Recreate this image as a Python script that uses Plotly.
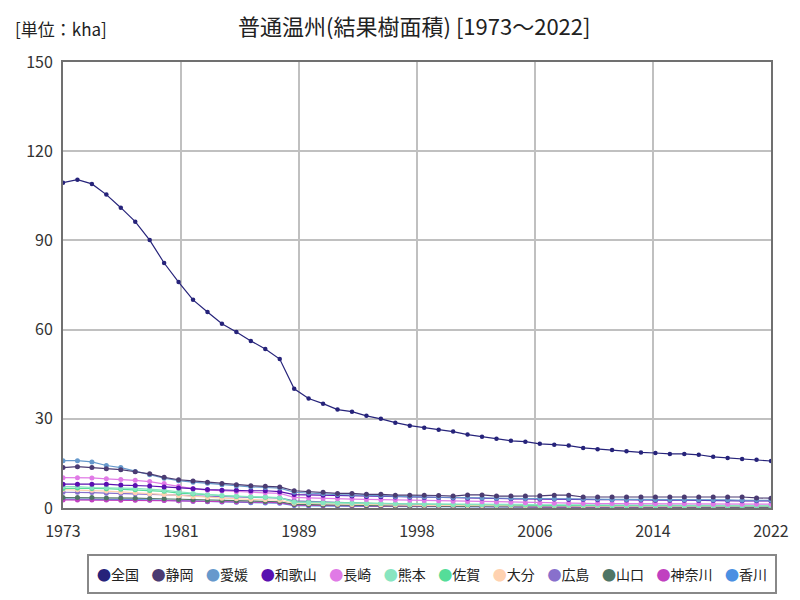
import numpy as np
import plotly.graph_objects as go

years = list(range(1973, 2023))

names = ["全国", "静岡", "愛媛", "和歌山", "長崎", "熊本", "佐賀", "大分", "広島", "山口", "神奈川", "香川"]
colors = ["#26237a", "#4b3b72", "#6699cc", "#5a10b0", "#e07ae6", "#88e5c0",
          "#55dd99", "#ffd2b0", "#8870cc", "#4f7565", "#c040c0", "#4a90e2"]

zenkoku = [109.4, 110.4, 109.0, 105.4, 101.0, 96.3, 90.1, 82.4, 76.0, 70.0, 65.9, 62.0, 59.2, 56.2, 53.5, 50.1, 40.1,
           36.8, 35.1, 33.1, 32.4, 31.0, 30.0, 28.7, 27.7, 27.0, 26.3, 25.7, 24.7, 24.0, 23.3, 22.6, 22.3, 21.6,
           21.3, 21.0, 20.2, 19.8, 19.5, 19.1, 18.7, 18.5, 18.2, 18.2, 17.9, 17.2, 16.8, 16.5, 16.2, 15.8]
shizuoka = [13.6, 13.9, 13.6, 13.2, 12.9, 12.2, 11.5, 10.3, 9.5, 9.1, 8.7, 8.2, 7.8, 7.5, 7.3, 7.1, 5.8,
            5.5, 5.3, 4.9, 4.9, 4.6, 4.6, 4.3, 4.3, 4.3, 4.2, 4.0, 4.4, 4.4, 4.0, 4.0, 4.0, 4.1,
            4.3, 4.3, 3.7, 3.7, 3.7, 3.7, 3.7, 3.7, 3.7, 3.7, 3.7, 3.7, 3.7, 3.7, 3.4, 3.3]
ehime = [15.9, 15.9, 15.5, 14.3, 13.6, 12.3, 11.2, 10.0, 9.2, 8.7, 8.3, 7.8, 7.4, 7.1, 6.9, 6.7, 5.3,
         5.0, 4.8, 4.5, 4.4, 4.2, 4.1, 3.9, 3.8, 3.7, 3.6, 3.5, 3.5, 3.4, 3.3, 3.3, 3.2, 3.2,
         3.1, 3.1, 3.0, 3.0, 2.9, 2.9, 2.9, 2.8, 2.8, 2.8, 2.7, 2.7, 2.7, 2.6, 2.6, 2.6]
wakayama = [8.0, 8.0, 8.0, 8.0, 7.7, 7.6, 7.4, 7.1, 6.7, 6.5, 6.2, 6.0, 6.0, 5.8, 5.8, 5.5, 4.5,
            4.4, 4.3, 4.1, 4.0, 3.9, 3.8, 3.7, 3.6, 3.5, 3.5, 3.4, 3.3, 3.3, 3.2, 3.1, 3.1, 3.0,
            3.0, 2.9, 2.9, 2.8, 2.8, 2.7, 2.7, 2.6, 2.6, 2.6, 2.5, 2.5, 2.5, 2.4, 2.4, 2.4]
nagasaki = [10.2, 10.2, 10.1, 9.8, 9.6, 9.3, 8.9, 8.2, 7.3, 6.5, 6.0, 5.8, 5.5, 5.3, 5.1, 4.9, 3.6,
            3.4, 3.2, 3.1, 3.0, 2.9, 2.8, 2.7, 2.6, 2.5, 2.4, 2.3, 2.2, 2.1, 2.0, 1.9, 1.8, 1.7,
            1.6, 1.6, 1.5, 1.5, 1.5, 1.5, 1.4, 1.4, 1.4, 1.4, 1.4, 1.3, 1.3, 1.3, 1.3, 1.3]
kumamoto = [7.2, 7.2, 6.9, 6.9, 6.7, 6.6, 6.3, 6.0, 5.4, 5.0, 4.5, 4.2, 4.0, 3.9, 3.8, 3.5, 1.9,
            1.8, 1.7, 1.6, 1.6, 1.5, 1.5, 1.4, 1.4, 1.4, 1.3, 1.3, 1.3, 1.2, 1.2, 1.2, 1.2, 1.1,
            1.1, 1.1, 1.1, 1.0, 1.0, 1.0, 1.0, 1.0, 1.0, 0.9, 0.9, 0.9, 0.9, 0.9, 0.9, 0.9]
saga = [6.6, 6.7, 6.6, 6.5, 6.3, 6.1, 5.9, 5.6, 5.0, 4.7, 4.4, 4.1, 3.9, 3.7, 3.6, 3.4, 2.1,
        2.0, 1.9, 1.8, 1.7, 1.6, 1.5, 1.4, 1.3, 1.3, 1.2, 1.2, 1.1, 1.1, 1.0, 1.0, 1.0, 0.9,
        0.9, 0.9, 0.9, 0.9, 0.8, 0.8, 0.8, 0.8, 0.8, 0.8, 0.8, 0.8, 0.7, 0.7, 0.7, 0.7]
oita = [6.2, 6.1, 6.0, 5.7, 5.4, 5.1, 4.8, 4.5, 4.1, 3.8, 3.5, 3.3, 3.1, 2.9, 2.8, 2.6, 1.6,
        1.5, 1.4, 1.3, 1.2, 1.2, 1.1, 1.0, 1.0, 0.9, 0.9, 0.9, 0.8, 0.8, 0.8, 0.7, 0.7, 0.7,
        0.7, 0.7, 0.6, 0.6, 0.6, 0.6, 0.6, 0.6, 0.6, 0.6, 0.6, 0.6, 0.6, 0.6, 0.6, 0.6]
hiroshima = [5.3, 5.3, 5.2, 5.0, 4.9, 4.8, 4.7, 4.5, 4.3, 4.1, 3.9, 3.8, 3.7, 3.6, 3.5, 3.4, 2.4,
             2.2, 2.0, 1.8, 1.6, 1.5, 1.3, 1.2, 1.1, 1.0, 0.9, 0.9, 0.8, 0.8, 0.7, 0.7, 0.7, 0.6,
             0.6, 0.6, 0.6, 0.5, 0.5, 0.5, 0.5, 0.5, 0.5, 0.5, 0.5, 0.5, 0.5, 0.5, 0.5, 0.5]
yamaguchi = [3.5, 3.5, 3.5, 3.4, 3.4, 3.3, 3.2, 3.1, 2.9, 2.8, 2.6, 2.5, 2.4, 2.3, 2.2, 2.1, 1.2,
             1.1, 1.0, 0.9, 0.9, 0.8, 0.8, 0.7, 0.7, 0.6, 0.6, 0.6, 0.5, 0.5, 0.5, 0.5, 0.4, 0.4,
             0.4, 0.4, 0.4, 0.4, 0.4, 0.4, 0.4, 0.4, 0.3, 0.3, 0.3, 0.3, 0.3, 0.3, 0.3, 0.3]
kanagawa = [2.7, 2.7, 2.7, 2.7, 2.6, 2.6, 2.6, 2.5, 2.4, 2.3, 2.2, 2.1, 2.0, 2.0, 1.9, 1.8, 1.0,
            0.9, 0.8, 0.8, 0.7, 0.7, 0.6, 0.6, 0.6, 0.5, 0.5, 0.5, 0.4, 0.4, 0.4, 0.4, 0.4, 0.3,
            0.3, 0.3, 0.3, 0.3, 0.3, 0.3, 0.3, 0.2, 0.2, 0.2, 0.2, 0.2, 0.2, 0.2, 0.2, 0.2]
kagawa = [3.0, 3.0, 3.0, 2.9, 2.9, 2.8, 2.7, 2.6, 2.4, 2.3, 2.1, 2.0, 1.9, 1.8, 1.7, 1.6, 0.8,
          0.7, 0.7, 0.6, 0.6, 0.5, 0.5, 0.5, 0.4, 0.4, 0.4, 0.4, 0.3, 0.3, 0.3, 0.3, 0.3, 0.3,
          0.2, 0.2, 0.2, 0.2, 0.2, 0.2, 0.2, 0.2, 0.2, 0.2, 0.2, 0.2, 0.2, 0.2, 0.2, 0.2]

series = [zenkoku, shizuoka, ehime, wakayama, nagasaki, kumamoto, saga, oita,
          hiroshima, yamaguchi, kanagawa, kagawa]

x_tick_labels = ["1973", "1981", "1989", "1998", "2006", "2014", "2022"]
y_ticks = [0, 30, 60, 90, 120, 150]

font = "Noto Sans CJK JP"

fig = go.Figure()
# small prefectures first so 全国 sits on top
for name, color, vals in reversed(list(zip(names, colors, series))):
    size = 4.5 if name == "全国" else 5
    fig.add_trace(go.Scatter(
        x=years, y=vals, name=name, mode="lines+markers",
        line=dict(color=color, width=1.2),
        marker=dict(color=color, size=size),
        showlegend=False
    ))

# ticks split the year range in 6 equal parts, labels rounded
tick_pos = np.linspace(years[0], years[-1], len(x_tick_labels))

fig.update_xaxes(
    range=[years[0], years[-1]], tickvals=tick_pos, ticktext=x_tick_labels,
    showgrid=True, gridcolor="#c0c0c0", gridwidth=2,
    showline=True, linecolor="#707070", linewidth=2, mirror=True,
    ticks="", ticklabelstandoff=8,
    tickfont=dict(size=16, color="#333333", family=font), zeroline=False
)
fig.update_yaxes(
    range=[0, 150], tickvals=y_ticks,
    showgrid=True, gridcolor="#c0c0c0", gridwidth=2,
    showline=True, linecolor="#707070", linewidth=2, mirror=True,
    ticks="", ticklabelstandoff=5,
    tickfont=dict(size=16, color="#333333", family=font), zeroline=False
)

sep = "\u00a0" * 4
legend_text = sep.join(f"<span style='color:{c}'>●</span>{n}" for n, c in zip(names, colors))

# page body has an 8px margin, so the figure is made 8px smaller and shifted
fig.update_layout(
    width=792, height=592,
    margin=dict(l=55, r=29, t=54, b=92),
    plot_bgcolor="white", paper_bgcolor="white",
    font=dict(family=font, color="#222222"),
    title=dict(text="普通温州(結果樹面積) [1973～2022]", x=0.513, xanchor="center",
               y=0.968, yanchor="middle",
               font=dict(size=22, color="#222222", family=font)),
    annotations=[
        dict(text="[単位：kha]", xref="paper", yref="paper", x=-0.07, y=1.076,
             xanchor="left", yanchor="middle", showarrow=False,
             font=dict(size=17, color="#222222", family=font)),
        dict(text=legend_text, xref="paper", yref="paper", x=0.034, y=-0.104,
             xanchor="left", yanchor="top", showarrow=False,
             font=dict(size=14, color="#222222", family=font),
             bordercolor="#888888", borderwidth=2, borderpad=8, bgcolor="white"),
    ],
)

fig.write_html("out.html")
